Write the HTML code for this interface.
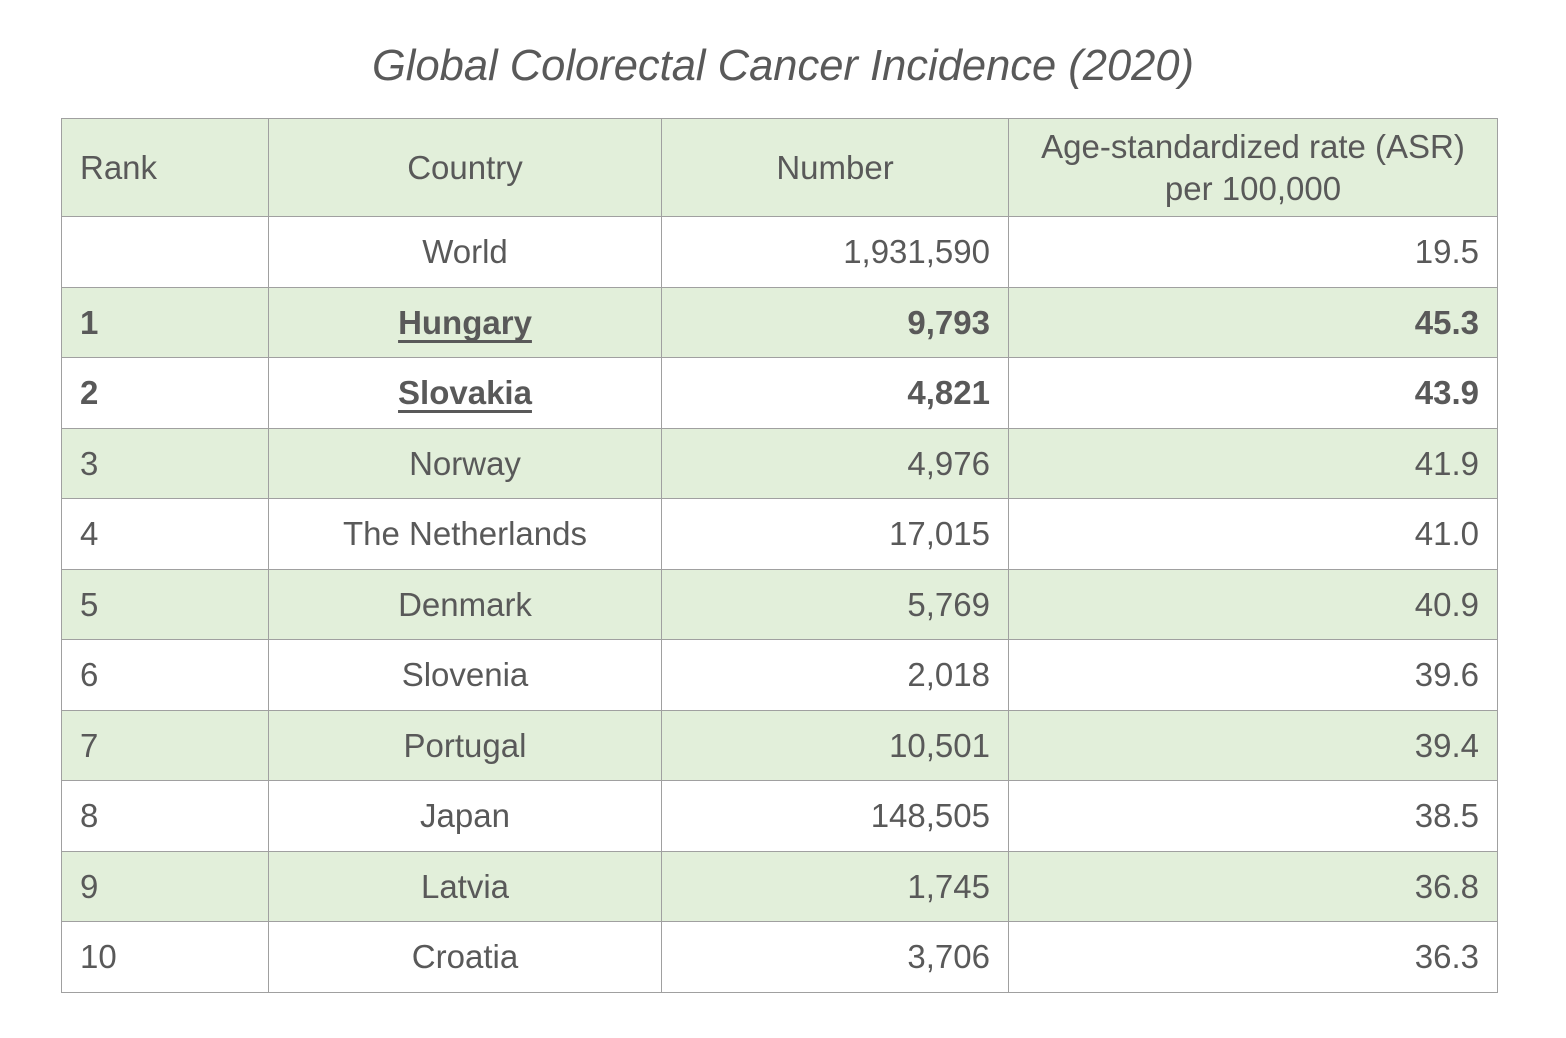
<!DOCTYPE html>
<html><head><meta charset="utf-8"><style>
body{margin:0;width:1566px;height:1038px;background:#fff;font-family:"Liberation Sans",Arial,sans-serif;color:#595959;position:relative;overflow:hidden}
h1{position:absolute;top:41px;left:0;width:1566px;text-align:center;margin:0;font-weight:normal;font-style:italic;font-size:43.5px;line-height:50px;color:#595959}
table{position:absolute;left:61px;top:118px;border-collapse:collapse;table-layout:fixed;font-size:33px}
td{border:1.5px solid #a0a0a0;padding:0 18px;height:70px;box-sizing:border-box;white-space:nowrap}
tr.o td{height:71px}
tr.h td{height:98px;line-height:42px}
tr.g td{background:#e2efda}
td.c{text-align:center}td.r{text-align:right}
tr.b td{font-weight:bold}
u{text-decoration-thickness:3px;text-underline-offset:6px;text-decoration-skip-ink:none}
</style></head><body>
<h1>Global Colorectal Cancer Incidence (2020)</h1>
<table>
<colgroup><col style="width:207px"><col style="width:393px"><col style="width:347px"><col style="width:489px"></colgroup>
<tr class="h g"><td>Rank</td><td class="c">Country</td><td class="c">Number</td><td class="c">Age-standardized rate (ASR)<br>per 100,000</td></tr>
<tr class="o"><td></td><td class="c">World</td><td class="r">1,931,590</td><td class="r">19.5</td></tr>
<tr class="g b"><td>1</td><td class="c"><u>Hungary</u></td><td class="r">9,793</td><td class="r">45.3</td></tr>
<tr class="b o"><td>2</td><td class="c"><u>Slovakia</u></td><td class="r">4,821</td><td class="r">43.9</td></tr>
<tr class="g"><td>3</td><td class="c">Norway</td><td class="r">4,976</td><td class="r">41.9</td></tr>
<tr class="o"><td>4</td><td class="c">The Netherlands</td><td class="r">17,015</td><td class="r">41.0</td></tr>
<tr class="g"><td>5</td><td class="c">Denmark</td><td class="r">5,769</td><td class="r">40.9</td></tr>
<tr class="o"><td>6</td><td class="c">Slovenia</td><td class="r">2,018</td><td class="r">39.6</td></tr>
<tr class="g"><td>7</td><td class="c">Portugal</td><td class="r">10,501</td><td class="r">39.4</td></tr>
<tr class="o"><td>8</td><td class="c">Japan</td><td class="r">148,505</td><td class="r">38.5</td></tr>
<tr class="g"><td>9</td><td class="c">Latvia</td><td class="r">1,745</td><td class="r">36.8</td></tr>
<tr class="o"><td>10</td><td class="c">Croatia</td><td class="r">3,706</td><td class="r">36.3</td></tr>
</table>
</body></html>
